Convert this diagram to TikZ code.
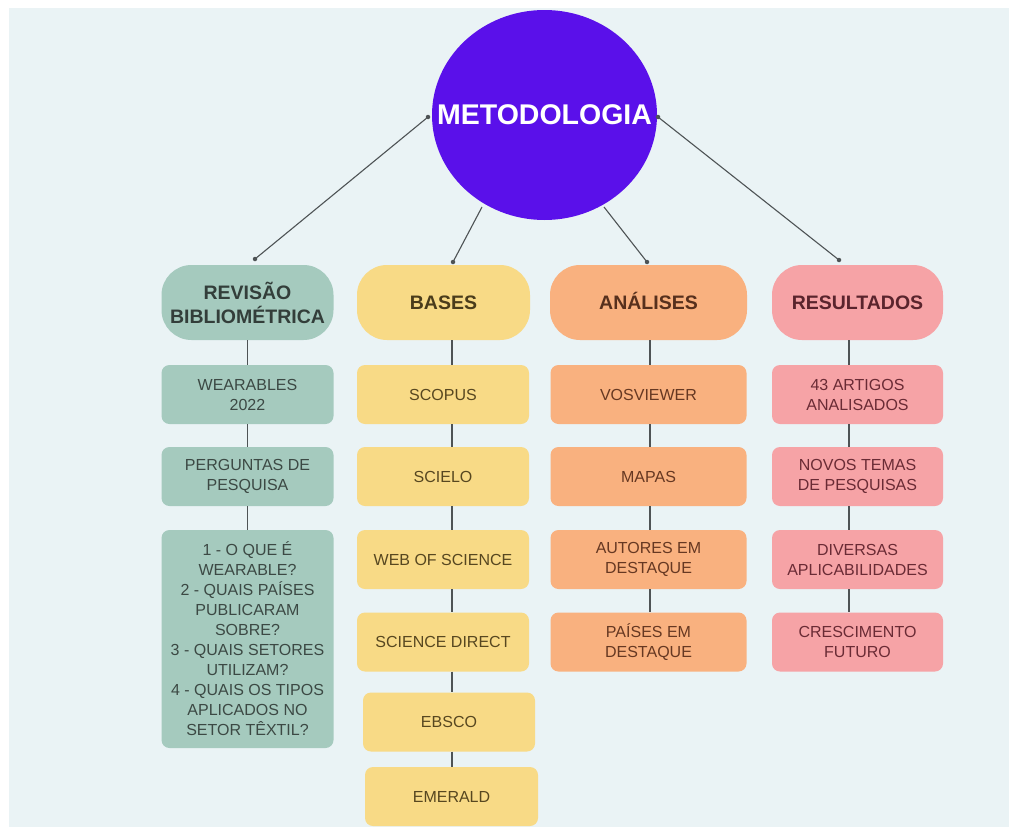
\documentclass[tikz,border=0pt]{standalone}
\usepackage{fontspec}
\setmainfont{Liberation Sans}
\usetikzlibrary{shapes.geometric}
\definecolor{bgpanel}{HTML}{EAF3F5}
\definecolor{purp}{HTML}{5A10EA}
\definecolor{gbox}{HTML}{A5CABE}
\definecolor{gtxt}{HTML}{3C4944}
\definecolor{ybox}{HTML}{F8DA86}
\definecolor{ytxt}{HTML}{574720}
\definecolor{obox}{HTML}{F9B17F}
\definecolor{otxt}{HTML}{663822}
\definecolor{pbox}{HTML}{F6A3A6}
\definecolor{ptxt}{HTML}{6A2B35}
\definecolor{conn}{HTML}{4E5355}
\begin{document}
\begin{tikzpicture}[x=1pt,y=-1pt,
  hdr/.style={rounded corners=30pt, minimum height=75pt, inner sep=0pt, align=center,
    font=\bfseries\fontsize{19.5}{24}\selectfont},
  oneline/.style={text height=14pt, text depth=0pt},
  item/.style={rounded corners=8pt, minimum height=59pt, inner sep=0pt, align=center,
    font=\fontsize{16}{20}\selectfont},
  gcol/.style={fill=gbox, text=gtxt, minimum width=172pt},
  ycol/.style={fill=ybox, text=ytxt, minimum width=172pt},
  ocol/.style={fill=obox, text=otxt, minimum width=196pt},
  pcol/.style={fill=pbox, text=ptxt, minimum width=171pt},
  link/.style={draw=conn, line width=1.2pt},
  dot/.style={circle, fill=conn, inner sep=0pt, minimum size=4.5pt}
]
\useasboundingbox (0,0) rectangle (1009,827);
\fill[white] (0,0) rectangle (1009,827);
\fill[bgpanel] (9,8) rectangle (1009,827);

% central node
\node[ellipse, fill=purp, minimum width=225pt, minimum height=210pt, inner sep=0pt] (m) at (544.5,115) {};
\node[text=white, inner sep=0pt, font=\bfseries\fontsize{28.5}{30}\selectfont] (mt) at (m.center) {METODOLOGIA};

% headers
\node[hdr, gcol, text=gtxt!85!black] (h1) at (247.5,302.5) {REVISÃO\\BIBLIOMÉTRICA};
\node[hdr, oneline, ycol, minimum width=173pt, text=ytxt!85!black] (h2) at (443.5,302.5) {BASES};
\node[hdr, oneline, ocol, minimum width=197pt, text=otxt!85!black] (h3) at (648.5,302.5) {ANÁLISES};
\node[hdr, oneline, pcol, text=ptxt!85!black] (h4) at (857.5,302.5) {RESULTADOS};

% column 1
\node[item, gcol] (g1) at (247.5,394.5) {WEARABLES\\2022};
\node[item, gcol] (g2) at (247.5,476.5) {PERGUNTAS DE\\PESQUISA};
\node[item, gcol, minimum height=218pt] (g3) at (247.5,639) {1 - O QUE É\\WEARABLE?\\2 - QUAIS PAÍSES\\PUBLICARAM\\SOBRE?\\3 - QUAIS SETORES\\UTILIZAM?\\4 - QUAIS OS TIPOS\\APLICADOS NO\\SETOR TÊXTIL?};

% column 2
\node[item, ycol] (y1) at (443,394.5) {SCOPUS};
\node[item, ycol] (y2) at (443,476.5) {SCIELO};
\node[item, ycol] (y3) at (443,559.5) {WEB OF SCIENCE};
\node[item, ycol] (y4) at (443,642) {SCIENCE DIRECT};
\node[item, ycol] (y5) at (449,722) {EBSCO};
\node[item, ycol, minimum width=173pt] (y6) at (451.5,796.5) {EMERALD};

% column 3
\node[item, ocol] (o1) at (648.5,394.5) {VOSVIEWER};
\node[item, ocol] (o2) at (648.5,476.5) {MAPAS};
\node[item, ocol] (o3) at (648.5,559.5) {AUTORES EM\\DESTAQUE};
\node[item, ocol] (o4) at (648.5,642) {PAÍSES EM\\DESTAQUE};

% column 4
\node[item, pcol] (p1) at (857.5,394.5) {43 ARTIGOS\\ANALISADOS};
\node[item, pcol] (p2) at (857.5,476.5) {NOVOS TEMAS\\DE PESQUISAS};
\node[item, pcol] (p3) at (857.5,559.5) {DIVERSAS\\APLICABILIDADES};
\node[item, pcol] (p4) at (857.5,642) {CRESCIMENTO\\FUTURO};

% vertical links
\draw[link] (h1.south) -- (g1.north);
\draw[link] (g1.south) -- (g2.north);
\draw[link] (g2.south) -- (g3.north);
\draw[link] (h2.south -| 452,0) -- (y1.north -| 452,0);
\draw[link] (y1.south -| 452,0) -- (y2.north -| 452,0);
\draw[link] (y2.south -| 452,0) -- (y3.north -| 452,0);
\draw[link] (y3.south -| 452,0) -- (y4.north -| 452,0);
\draw[link] (y4.south -| 452,0) -- (y5.north -| 452,0);
\draw[link] (y5.south -| 452,0) -- (y6.north -| 452,0);
\draw[link] (h3.south -| 650,0) -- (o1.north -| 650,0);
\draw[link] (o1.south -| 650,0) -- (o2.north -| 650,0);
\draw[link] (o2.south -| 650,0) -- (o3.north -| 650,0);
\draw[link] (o3.south -| 650,0) -- (o4.north -| 650,0);
\draw[link] (h4.south -| 849,0) -- (p1.north -| 849,0);
\draw[link] (p1.south -| 849,0) -- (p2.north -| 849,0);
\draw[link] (p2.south -| 849,0) -- (p3.north -| 849,0);
\draw[link] (p3.south -| 849,0) -- (p4.north -| 849,0);

% links from the centre
\coordinate (mL) at (428,117);
\coordinate (mR) at (658,117);
\coordinate (mBL) at (482,207);
\coordinate (mBR) at (604,207);
\coordinate (t1) at (255,259);
\coordinate (t2) at (453,262);
\coordinate (t3) at (647,262);
\coordinate (t4) at (839,260);
\draw[link, line width=1.1pt] (mL) -- (t1);
\draw[link, line width=1.1pt] (mBL) -- (t2);
\draw[link, line width=1.1pt] (mBR) -- (t3);
\draw[link, line width=1.1pt] (mR) -- (t4);
\foreach \p in {mL,mR,t1,t2,t3,t4} \node[dot] at (\p) {};
\end{tikzpicture}
\end{document}
